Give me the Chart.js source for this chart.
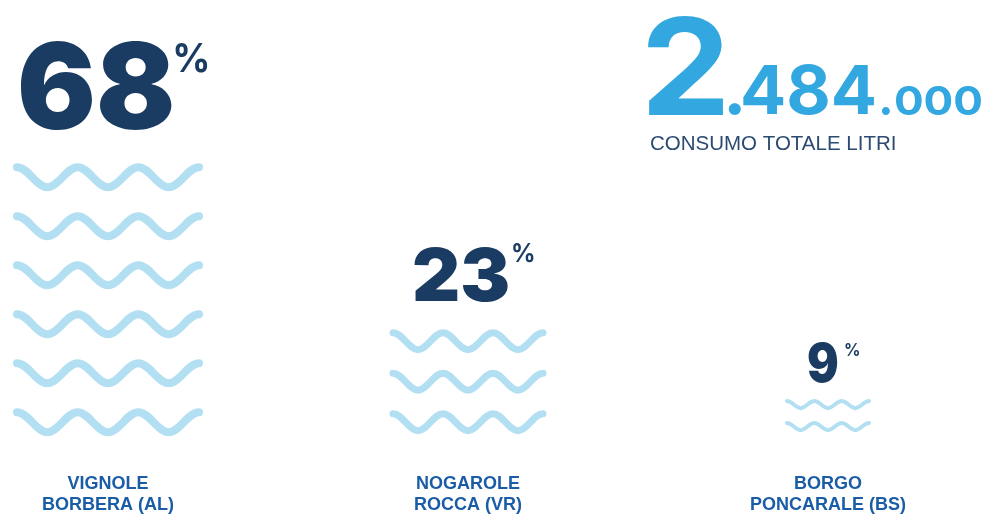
<!DOCTYPE html>
<html>
<head>
<meta charset="utf-8">
<script src="https://cdn.jsdelivr.net/npm/chart.js@4.4.1/dist/chart.umd.min.js"></script>
<style>
  html, body { margin: 0; padding: 0; background: #fff; }
  #wrap { width: 983px; height: 514px; position: relative; }
</style>
</head>
<body>
<div id="wrap"><canvas id="chartWaves"></canvas></div>
<script>
  const places = [
    ["VIGNOLE", "BORBERA (AL)"],
    ["NOGAROLE", "ROCCA (VR)"],
    ["BORGO", "PONCARALE (BS)"],
  ];
  const shares = [68, 23, 9];
  const waveRows = [6, 3, 2];
  const totalParts = ["2", ".484", ".000"];
  const totalCaption = "CONSUMO TOTALE LITRI";

  const navy = "#1b3c62";
  const waveBlue = "#b3dff2";
  const sky = "#33a8e0";
  const numFont = "Inter, Lato, sans-serif";

  // look of each column: wave size, row pitch, ink size of the number and %
  const colStyle = [
    { width: 182, amp: 10, line: 8, pitch: 49, lift: 0, num: 90, numW: 151, pct: 30, pctW: 32, pctGap: 3, pctDy: 3, gap: 33 },
    { width: 150, amp: 8.5, line: 7, pitch: 40.5, lift: 2, num: 55, numW: 94, pct: 19, pctW: 21, pctGap: 5, pctDy: -3, gap: 27 },
    { width: 82, amp: 3.6, line: 4, pitch: 22, lift: 4, num: 40, numW: 30, pct: 13, pctW: 15, pctGap: 7, pctDy: 0, gap: 16 },
  ];

  // pick a font size so the text's ink has the wanted height
  function fitFont(ctx, weight, text, inkHeight) {
    ctx.font = weight + " 100px " + numFont;
    const m = ctx.measureText(text);
    const size = (100 * inkHeight) / (m.actualBoundingBoxAscent + m.actualBoundingBoxDescent);
    ctx.font = weight + " " + size.toFixed(2) + "px " + numFont;
    return ctx.measureText(text);
  }

  // draw text with its ink box starting at inkLeft / ending at inkBottom,
  // stretched to inkWidth when one is given
  function drawInk(ctx, text, m, inkLeft, inkBottom, inkWidth) {
    const w0 = m.actualBoundingBoxLeft + m.actualBoundingBoxRight;
    const sx = inkWidth ? inkWidth / w0 : 1;
    ctx.save();
    ctx.translate(inkLeft, 0);
    ctx.scale(sx, 1);
    ctx.fillText(text, m.actualBoundingBoxLeft, inkBottom - m.actualBoundingBoxDescent);
    ctx.restore();
    return w0 * sx;
  }

  function drawWave(ctx, cx, cy, s) {
    const left = cx - s.width / 2;
    const half = s.width / 6;
    const top = cy - s.amp;
    const bottom = cy + s.amp;
    ctx.beginPath();
    ctx.moveTo(left, top);
    for (let k = 0; k < 6; k++) {
      const x0 = left + k * half;
      const y0 = k % 2 ? bottom : top;
      const y1 = k % 2 ? top : bottom;
      ctx.bezierCurveTo(x0 + half * 0.36, y0, x0 + half * 0.64, y1, x0 + half, y1);
    }
    ctx.lineWidth = s.line;
    ctx.lineCap = "round";
    ctx.lineJoin = "round";
    ctx.strokeStyle = waveBlue;
    ctx.stroke();
  }

  const wavesPlugin = {
    id: "waves",
    afterDatasetsDraw(chart) {
      const ctx = chart.ctx;
      const base = chart.scales.y.getPixelForValue(0);
      const bars = chart.getDatasetMeta(0).data;
      ctx.save();
      ctx.textAlign = "left";
      ctx.textBaseline = "alphabetic";
      bars.forEach((bar, i) => {
        const s = colStyle[i];
        const firstRow = base - s.lift - s.amp - s.line / 2;
        for (let r = 0; r < waveRows[i]; r++) {
          drawWave(ctx, bar.x, firstRow - r * s.pitch, s);
        }
        const topEdge = firstRow - (waveRows[i] - 1) * s.pitch - s.amp - s.line / 2;

        // percentage number above the waves
        const txt = String(shares[i]);
        const inkLeft = bar.x + 6 - (s.numW + s.pctGap + s.pctW) / 2;
        const inkBottom = topEdge - s.gap;
        ctx.fillStyle = navy;
        const mn = fitFont(ctx, "900", txt, s.num);
        drawInk(ctx, txt, mn, inkLeft, inkBottom, s.numW);
        const mp = fitFont(ctx, "700", "%", s.pct);
        const pctBottom = inkBottom - s.num + s.pctDy + s.pct;
        drawInk(ctx, "%", mp, inkLeft + s.numW + s.pctGap, pctBottom, s.pctW);
      });

      // total consumption, top right
      const inkHeights = [99, 51, 30];
      const inkWidths = [75, 131, 87];
      const dotSizes = [0, 12, 8];
      const gapsBefore = [0, 5, 7];
      const gapsAfterDot = [0, 2, 5];
      let x = chart.width - 335;
      const y = 115;
      ctx.fillStyle = sky;
      totalParts.forEach((part, k) => {
        const digits = part.replace(".", "");
        x += gapsBefore[k];
        if (part.startsWith(".")) {
          const md = fitFont(ctx, "700", ".", dotSizes[k]);
          x += drawInk(ctx, ".", md, x, y) + gapsAfterDot[k];
        }
        const m = fitFont(ctx, "700", digits, inkHeights[k]);
        x += drawInk(ctx, digits, m, x, y, inkWidths[k]);
      });
      ctx.fillStyle = "#2c4b72";
      ctx.font = "400 20.5px 'Liberation Sans', Arial, sans-serif";
      ctx.fillText(totalCaption, chart.width - 333, 150);
      ctx.restore();
    },
  };

  const data = {
    labels: places,
    datasets: [
      {
        label: "Quota consumo",
        data: shares,
        backgroundColor: "rgba(0,0,0,0)",
        borderWidth: 0,
      },
    ],
  };

  const config = {
    type: "bar",
    data,
    options: {
      responsive: true,
      maintainAspectRatio: false,
      animation: false,
      events: [],
      layout: { padding: { left: 108, right: 155, top: 0, bottom: -2 } },
      plugins: {
        legend: { display: false },
        tooltip: { enabled: false },
      },
      scales: {
        x: {
          offset: false,
          grid: { display: false, drawTicks: false },
          border: { display: false },
          ticks: {
            autoSkip: false,
            maxRotation: 0,
            padding: 0,
            color: "#1a5da6",
            font: {
              family: "'Liberation Sans', Arial, sans-serif",
              weight: "bold",
              size: 18,
              lineHeight: 1.2,
            },
          },
        },
        // 0 sits a little above the axis so the labels have room
        y: { display: false, min: -8.4, max: 100 },
      },
    },
    plugins: [wavesPlugin],
  };

  var chartWaves = new Chart(document.getElementById("chartWaves"), config);
</script>
</body>
</html>
